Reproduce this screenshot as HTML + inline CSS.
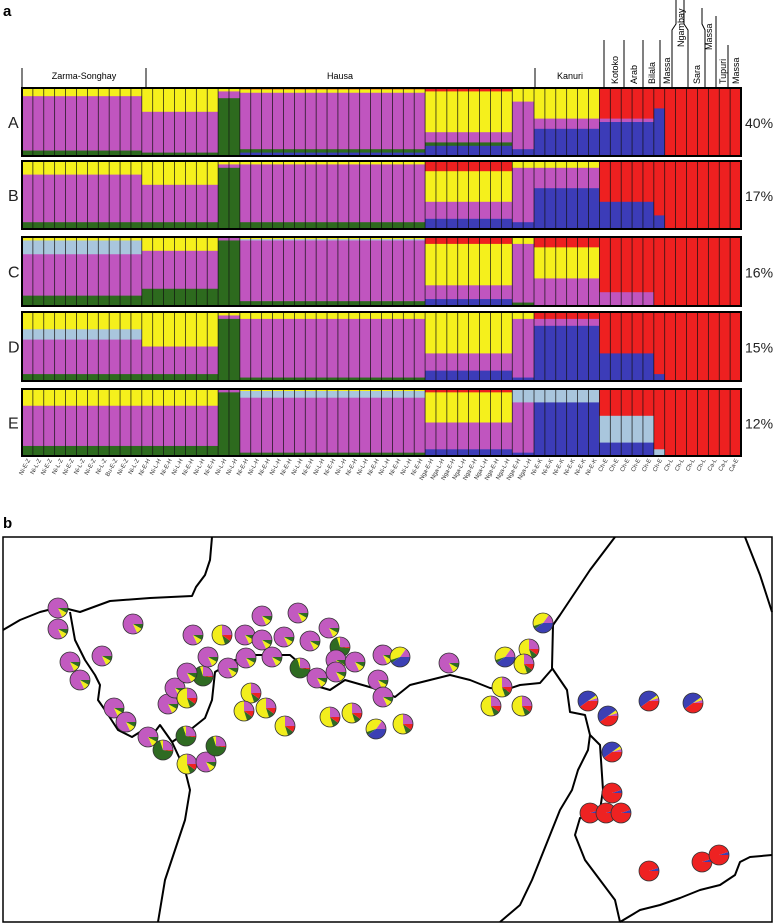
<!DOCTYPE html>
<html><head><meta charset="utf-8">
<style>
html,body{margin:0;padding:0;background:#fff;}
body{width:774px;height:924px;overflow:hidden;font-family:"Liberation Sans",sans-serif;}
svg{display:block;}
</style></head>
<body>
<svg id="fig" width="774" height="924" viewBox="0 0 774 924" xmlns="http://www.w3.org/2000/svg">
<text x="3" y="16" font-size="15" font-weight="bold">a</text>
<text x="3" y="528" font-size="15" font-weight="bold">b</text>
<g id="header" stroke="#000" stroke-width="1" fill="none">
<line x1="22" y1="68" x2="22" y2="88"/><line x1="146" y1="68" x2="146" y2="88"/>
<line x1="535" y1="68" x2="535" y2="88"/><line x1="604" y1="40" x2="604" y2="88"/>
<line x1="624" y1="40" x2="624" y2="88"/><line x1="643" y1="40" x2="643" y2="88"/>
<line x1="660" y1="40" x2="660" y2="88"/>
<polyline points="672,88 672,30 676,24 676,0"/><polyline points="688,88 688,30 684,24 684,0"/>
<polyline points="705,88 705,30 702,24 702,8"/><line x1="716" y1="88" x2="716" y2="16"/>
<line x1="728" y1="88" x2="728" y2="45"/>
</g>
<g font-size="9" fill="#000">
<text x="84" y="79" text-anchor="middle">Zarma-Songhay</text>
<text x="340" y="79" text-anchor="middle">Hausa</text>
<text x="570" y="79" text-anchor="middle">Kanuri</text>
<text transform="translate(618,84) rotate(-90)">Kotoko</text>
<text transform="translate(637,84) rotate(-90)">Arab</text>
<text transform="translate(655,84) rotate(-90)">Bilala</text>
<text transform="translate(670,84) rotate(-90)">Massa</text>
<text transform="translate(684,47) rotate(-90)">Ngambay</text>
<text transform="translate(700,84) rotate(-90)">Sara</text>
<text transform="translate(712,50) rotate(-90)">Massa</text>
<text transform="translate(726,84) rotate(-90)">Tupuri</text>
<text transform="translate(739,84) rotate(-90)">Massa</text>
</g>
<g id="bars"></g>
<g id="ticks"></g>
<g id="map"></g>
</svg>
<script>
// ---- panel a data ----
const nPop = 66;
const segStart = [0, 11, 18, 20, 37, 45, 47, 53, 58, 59];
const segEnd   = [11, 18, 20, 37, 45, 47, 53, 58, 59, 66];
const compNames = ['red','yellow','lightblue','purple','green','blue'];
const panelNames = ['A','B','C','D','E'];
const panelPct = ['40%','17%','16%','15%','12%'];
const compA = [[0,.12,0,.8,.08,0],[0,.35,0,.6,.05,0],[0,.05,0,.1,.85,0],[.02,.05,0,.83,.05,.05],[.05,.6,0,.15,.05,.15],[0,.2,0,.7,0,.1],[0,.45,0,.15,0,.4],[.45,0,0,.05,0,.5],[.3,0,0,0,0,.7],[1,0,0,0,0,0]];
const compB = [[0,.2,0,.7,.1,0],[0,.35,0,.55,.1,0],[0,.05,0,.05,.9,0],[0,.05,0,.85,.1,0],[.15,.45,0,.25,0,.15],[0,.1,0,.8,0,.1],[0,.1,0,.3,0,.6],[.6,0,0,0,0,.4],[.8,0,0,0,0,.2],[1,0,0,0,0,0]];
const compC = [[0,.05,.2,.6,.15,0],[0,.2,0,.55,.25,0],[0,0,0,.05,.95,0],[0,.03,.02,.88,.07,0],[.1,.6,0,.2,0,.1],[0,.1,0,.85,.05,0],[.15,.45,0,.4,0,0],[.8,0,0,.2,0,0],[1,0,0,0,0,0],[1,0,0,0,0,0]];
const compD = [[0,.25,.15,.5,.1,0],[0,.5,0,.4,.1,0],[0,.05,0,.05,.9,0],[0,.1,0,.85,.05,0],[0,.6,0,.25,0,.15],[0,.1,0,.85,0,.05],[.1,0,0,.1,0,.8],[.6,0,0,0,0,.4],[.9,0,0,0,0,.1],[1,0,0,0,0,0]];
const compE = [[0,.25,0,.6,.15,0],[0,.25,0,.6,.15,0],[0,0,0,.05,.95,0],[0,.03,.1,.82,.05,0],[.05,.45,0,.4,0,.1],[0,0,.2,.75,0,.05],[0,0,.2,0,0,.8],[.4,0,.4,0,0,.2],[.9,0,.1,0,0,0],[1,0,0,0,0,0]];
const popLabels = ['Ni-E-Z','Ni-L-Z','Ni-E-Z','Ni-L-Z','Ni-E-Z','Ni-L-Z','Ni-E-Z','Ni-L-Z','Bu-E-Z','Ni-E-Z','Ni-L-Z',
 'Ni-E-H','Ni-L-H','Ni-E-H','Ni-L-H','Ni-E-H','Ni-L-H','Ni-E-H','Ni-L-H','Ni-L-H','Ni-E-H','Ni-L-H','Ni-E-H','Ni-L-H','Ni-E-H','Ni-L-H','Ni-E-H','Ni-L-H','Ni-E-H','Ni-L-H','Ni-E-H','Ni-L-H','Ni-E-H','Ni-L-H','Ni-E-H','Ni-L-H','Ni-E-H',
 'Nga-E-H','Nga-L-H','Nga-E-H','Nga-L-H','Nga-E-H','Nga-L-H','Nga-E-H','Nga-L-H','Nga-E-H','Nga-L-H',
 'Ni-E-K','Ni-E-K','Ni-E-K','Ni-E-K','Ni-E-K','Ni-E-K',
 'Ch-E','Ch-E','Ch-E','Ch-E','Ch-E','Ch-E','Ch-L','Ch-L','Ch-L','Ch-L','Ca-L','Ca-L','Ca-E','Ca-E'];
const allComps = [compA, compB, compC, compD, compE];
// ---- panel b data (map coords) ----
const pieX = [58,58,133,70,102,80,114,126,148,163,186,187,206,216,168,175,187,203,187,193,222,208,228,245,262,262,298,284,246,272,251,266,244,285,300,310,329,340,336,317,336,355,383,400,378,383,330,352,376,403,449,543,505,529,524,502,491,522,588,608,649,693,612,612,590,606,621,649,702,719];
const pieY = [608,629,624,662,656,680,708,722,737,750,736,764,762,746,704,688,698,676,673,635,635,657,668,635,640,616,613,637,658,657,693,708,711,726,668,641,628,647,660,678,672,662,655,657,680,697,717,713,729,724,663,623,657,649,664,687,706,706,701,716,701,703,752,793,813,813,813,871,862,855];
const pieType = ['P','P','P','P','P','P','P','P','P','G','G','Y','P','G','P','P','Y','G','P','P','Y','P','P','P','P','P','P','P','P','P','Y','Y','Y','Y','G','P','P','G','P','P','P','P','P','K','P','P','Y','Y','K','Y','P','K','K','Y','Y','Y','Y','Y','BR','BR','BR','BR','BR','R','R','R','R','R','R','R'];
const typeVals = {P:[.82,.1,.08,0,0],G:[.25,.05,.68,0,.02],Y:[.25,.55,.1,0,.1],K:[.15,.4,.05,.4,0],BR:[.05,.05,0,.5,.4],R:[0,0,0,.05,.95]};
const pieColors = ['#c25ac0','#f2ee1c','#2f6b22','#3c40b4','#ee2222'];

const colors = {red:'#ee2020',yellow:'#f5f01c',lightblue:'#a9c6dd',purple:'#c055bf',green:'#2d6a1e',blue:'#3c3cb8'};
const NS='http://www.w3.org/2000/svg';
function mk(tag,attrs,parent){const e=document.createElementNS(NS,tag);for(const k in attrs)e.setAttribute(k,attrs[k]);parent.appendChild(e);return e;}
const X0=22,X1=741;
const xScale = i => X0 + i*(X1-X0)/nPop;
const panelTop=[88,161,237,312,389], panelBot=[156,229,306,381,456];
const bars=document.getElementById('bars');
allComps.forEach((comp,p)=>{
  const g=mk('g',{},bars);
  
  
  const y0=panelTop[p], h=panelBot[p]-panelTop[p];
  const yScale=v=>y0+v*h;
  for(let s=0;s<segStart.length;s++){
    let acc=0;
    comp[s].forEach((v,c)=>{
      if(v<=0)return;
      const r=mk('rect',{x:xScale(segStart[s]),y:yScale(acc),width:xScale(segEnd[s])-xScale(segStart[s]),height:v*h+0.5,fill:colors[compNames[c]]},g);
      
      
      acc+=v;
    });
  }
  for(let i=1;i<nPop;i++){
    const l=mk('line',{x1:xScale(i),x2:xScale(i),y1:y0,y2:y0+h,stroke:'#111','stroke-width':0.7},g);
    
    
  }
  const fr=mk('rect',{x:X0,y:y0,width:X1-X0,height:h,fill:'none',stroke:'#000','stroke-width':2},g);
  
  
  const t=mk('text',{x:8,y:y0+h/2+6,'font-size':16,fill:'#222'},g);t.textContent=panelNames[p];
  
  
  const pc=mk('text',{x:745,y:y0+h/2+6,'font-size':14,'text-anchor':'start',fill:'#222'},g);pc.textContent=panelPct[p];
  
  
});
const ticks=document.getElementById('ticks');
popLabels.slice(0,nPop).forEach((lab,i)=>{
  const x=xScale(i+0.5);
  const t=mk('text',{transform:`translate(${x+3},460) rotate(-62)`,'font-size':6,'text-anchor':'end',fill:'#333'},ticks);
  t.textContent=lab;
  
  
});
// ---- map ----
const map=document.getElementById('map');
const frame=mk('rect',{x:3,y:537,width:769,height:385,fill:'#fff',stroke:'#000','stroke-width':1.5},map);


const borders=[
 '3,630 20,620 40,612 60,607 80,612 110,601 150,598 192,596 196,587 205,575 210,560 212,537',
 '70,612 75,640 85,660 95,675 100,685 98,700 105,710 118,730 132,737 140,732 145,745 160,725 172,742 185,770 190,790 185,820 175,850 165,880 158,922',
 '172,742 190,730 205,718 212,700 215,672 235,660 255,655 290,655 305,668 313,685 330,690 345,680 380,690 395,697 410,685 430,680 450,675 470,680 490,688 505,690 520,685 540,683 553,668',
 '615,537 590,570 570,600 560,615 553,625 552,668 567,690 570,712 585,715 590,735 600,745 603,790 600,810',
 '590,735 588,750 578,770 572,790 560,810 550,835 540,860 532,880 520,905 500,922',
 '595,815 580,818 575,835 585,860 600,880 615,900 620,922',
 '620,922 640,910 660,905 680,898 700,890 720,885 735,875 740,862 750,857 772,855',
 '745,537 760,575 772,612'];
borders.forEach(pts=>{
  const pl=mk('polyline',{points:pts,fill:'none',stroke:'#000','stroke-width':2,'stroke-linejoin':'round'},map);
  
  
});
const R=10;
pieX.forEach((px,i)=>{
  const py=pieY[i];const vals=typeVals[pieType[i]];
  const g=mk('g',{},map);
  
  
  let a=0;
  vals.forEach((v,c)=>{
    if(v<=0)return;
    const a1=a+v*2*Math.PI;
    if(v>=0.999){mk('circle',{cx:px,cy:py,r:R,fill:pieColors[c]},g);}
    else{
      const x0=px+R*Math.cos(a),y0=py-R*Math.sin(a),x1=px+R*Math.cos(a1),y1=py-R*Math.sin(a1);
      mk('path',{d:`M${px},${py}L${x0},${y0}A${R},${R} 0 ${v>0.5?1:0} 0 ${x1},${y1}Z`,fill:pieColors[c]},g);
    }
    a=a1;
  });
  mk('circle',{cx:px,cy:py,r:R,fill:'none',stroke:'#333','stroke-width':0.8},g);
});
</script>
</body></html>
